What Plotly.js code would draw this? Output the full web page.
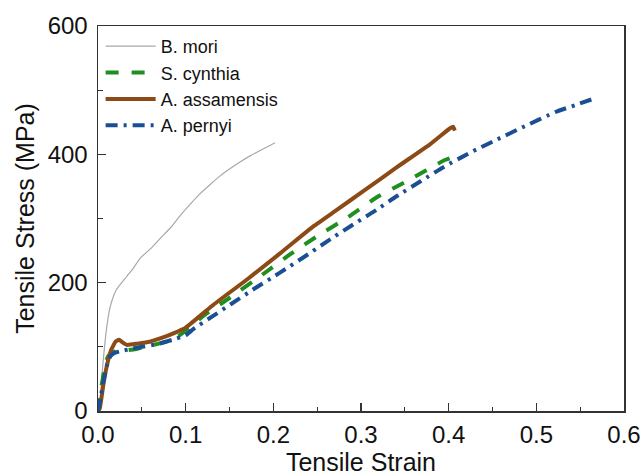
<!DOCTYPE html>
<html>
<head>
<meta charset="utf-8">
<script src="https://cdn.plot.ly/plotly-3.0.1.min.js"></script>
<style>html,body{margin:0;padding:0;background:#fff;}#chart{width:644px;height:476px;}</style>
</head>
<body>
<div id="chart"></div>
<script>
// B. mori
const moriStrain = [0, 0.002, 0.005, 0.010, 0.014, 0.021, 0.033, 0.040, 0.048, 0.060, 0.071, 0.083, 0.094, 0.105, 0.116, 0.128, 0.139, 0.150, 0.162, 0.174, 0.185, 0.195, 0.202];
const moriStress = [0, 11, 64, 131, 163, 189, 210, 222, 238, 253, 269, 286, 305, 322, 338, 353, 366, 377, 388, 398, 406, 413, 418];
// S. cynthia
const cynStrain = [0, 0.003, 0.006, 0.009, 0.012, 0.018, 0.025, 0.035, 0.045, 0.060, 0.078, 0.090, 0.100, 0.120, 0.154, 0.185, 0.219, 0.253, 0.284, 0.318, 0.356, 0.394, 0.402];
const cynStress = [0, 30, 55, 77, 86, 92, 94, 95, 97, 102, 108, 115, 125, 148, 180, 210, 244, 275, 301, 333, 361, 390, 394];
// A. assamensis
const assStrain = [0, 0.002, 0.006, 0.010, 0.015, 0.020, 0.024, 0.028, 0.033, 0.045, 0.059, 0.075, 0.086, 0.100, 0.132, 0.170, 0.208, 0.246, 0.272, 0.303, 0.341, 0.379, 0.402, 0.405, 0.407];
const assStress = [0, 4, 40, 70, 95, 108, 111, 107, 103, 105, 108, 115, 121, 130, 166, 205, 246, 288, 313, 343, 380, 416, 441, 443, 437];
// A. pernyi
const perStrain = [0, 0.003, 0.006, 0.010, 0.014, 0.018, 0.025, 0.035, 0.050, 0.067, 0.085, 0.100, 0.109, 0.130, 0.151, 0.180, 0.208, 0.235, 0.261, 0.288, 0.315, 0.341, 0.368, 0.394, 0.425, 0.455, 0.484, 0.522, 0.545, 0.566];
const perStress = [0, 20, 45, 70, 85, 90, 93, 96, 100, 104, 111, 118, 128, 147, 166, 192, 216, 240, 264, 288, 311, 335, 358, 380, 403, 423, 442, 466, 477, 487];

const names = ['B. mori', 'S. cynthia', 'A. assamensis', 'A. pernyi'];
const xTicks = [0, 0.1, 0.2, 0.3, 0.4, 0.5, 0.6];
const yTicks = [0, 200, 400, 600];

const traces = [
  {x: moriStrain, y: moriStress, name: names[0], mode: 'lines', line: {color: '#a8a8a8', width: 1.2, shape: 'spline', smoothing: 0.6}},
  {x: cynStrain, y: cynStress, name: names[1], mode: 'lines', line: {color: '#1f8f1f', width: 4, dash: '13px,13px', shape: 'spline', smoothing: 0.5}},
  {x: assStrain, y: assStress, name: names[2], mode: 'lines', line: {color: '#8c4a16', width: 4, shape: 'spline', smoothing: 0.4}},
  {x: perStrain, y: perStress, name: names[3], mode: 'lines', line: {color: '#1a4f94', width: 4, dash: '12px,6px,3px,6px', shape: 'spline', smoothing: 0.5}}
];

const fam = 'Liberation Sans, Arial, sans-serif';
const axisCommon = {
  showline: true, linecolor: '#333', linewidth: 1.5, mirror: true,
  ticks: 'inside', ticklen: 8, tickwidth: 1.5, tickcolor: '#333',
  showgrid: false, zeroline: false,
  tickfont: {family: fam, size: 24, color: '#111'}
};

const layout = {
  width: 644, height: 476,
  margin: {l: 98, r: 20, t: 26, b: 65},
  paper_bgcolor: '#fff', plot_bgcolor: '#fff',
  showlegend: true,
  legend: {
    x: 0.005, y: 0.995, xanchor: 'left', yanchor: 'top',
    bgcolor: 'rgba(0,0,0,0)', borderwidth: 0,
    font: {family: fam, size: 18, color: '#111'},
    itemwidth: 50, tracegroupgap: 0
  },
  xaxis: Object.assign({}, axisCommon, {
    range: [0, 0.6], tickvals: xTicks, ticktext: xTicks.map(v => v.toFixed(1)),
    ticklabelstandoff: 2,
    minor: {ticks: 'inside', ticklen: 4, tickwidth: 1.2, tickcolor: '#333', dtick: 0.05, tick0: 0},
    title: {text: 'Tensile Strain', font: {family: fam, size: 25, color: '#111'}, standoff: 13}
  }),
  yaxis: Object.assign({}, axisCommon, {
    range: [0, 600], tickvals: yTicks,
    ticklabelstandoff: 4,
    minor: {ticks: 'inside', ticklen: 5, tickwidth: 1.2, tickcolor: '#333', dtick: 100, tick0: 0},
    title: {text: 'Tensile Stress (MPa)', font: {family: fam, size: 25, color: '#111'}, standoff: 6}
  })
};

Plotly.newPlot('chart', traces, layout, {displayModeBar: false, staticPlot: true});
</script>
</body>
</html>
